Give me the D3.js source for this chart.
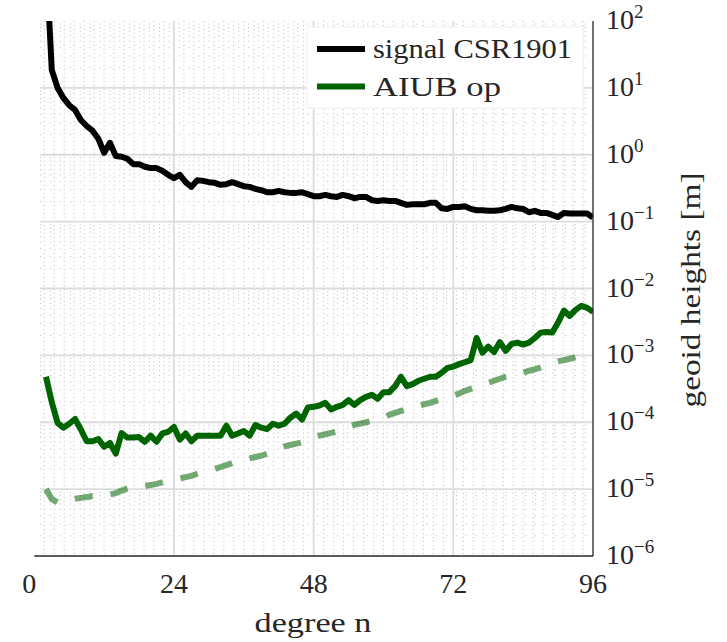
<!DOCTYPE html>
<html>
<head>
<meta charset="utf-8">
<script src="https://cdn.jsdelivr.net/npm/d3@7/dist/d3.min.js"></script>
<style>
  body { margin: 0; background: #fff; }
  text { font-family: "Liberation Serif", "Times New Roman", serif; fill: #262626; }
</style>
</head>
<body>
<div id="chart"></div>
<script>
// degrees 2..96
const degrees = d3.range(2, 97);

// signal CSR1901 (geoid heights per degree, m)
const signalCSR = [
  1000, 18.6, 10.0, 7.08, 5.50, 4.68, 3.31, 2.69, 2.29, 1.74,
  1.07, 1.51, 0.955, 0.933, 0.871, 0.724, 0.724, 0.661, 0.631, 0.631,
  0.575, 0.501, 0.447, 0.501, 0.389, 0.331, 0.417, 0.407, 0.389, 0.380,
  0.355, 0.363, 0.389, 0.363, 0.339, 0.331, 0.309, 0.295, 0.275, 0.275,
  0.288, 0.275, 0.269, 0.269, 0.275, 0.257, 0.240, 0.240, 0.251, 0.240,
  0.234, 0.251, 0.240, 0.224, 0.234, 0.234, 0.209, 0.204, 0.209, 0.204,
  0.204, 0.191, 0.178, 0.182, 0.182, 0.182, 0.191, 0.191, 0.158, 0.155,
  0.166, 0.166, 0.170, 0.155, 0.148, 0.148, 0.145, 0.145, 0.148, 0.155,
  0.166, 0.158, 0.155, 0.138, 0.145, 0.135, 0.135, 0.126, 0.117, 0.135,
  0.132, 0.132, 0.132, 0.132, 0.115
];

// AIUB op (difference)
const aiubOp = [
  4.79e-4, 2.0e-4, 9.8e-5, 8.3e-5, 9.5e-5, 1.12e-4, 7.8e-5, 5.2e-5, 5.2e-5, 5.6e-5,
  4.3e-5, 4.9e-5, 3.4e-5, 6.9e-5, 5.9e-5, 5.9e-5, 6.0e-5, 5.1e-5, 6.3e-5, 5.1e-5,
  6.8e-5, 7.2e-5, 8.5e-5, 5.5e-5, 6.8e-5, 5.2e-5, 6.3e-5, 6.3e-5, 6.3e-5, 6.3e-5,
  6.3e-5, 8.9e-5, 6.3e-5, 6.8e-5, 7.4e-5, 6.3e-5, 9.1e-5, 8.3e-5, 7.9e-5, 9.5e-5,
  8.9e-5, 9.5e-5, 1.17e-4, 1.35e-4, 1.10e-4, 1.66e-4, 1.70e-4, 1.78e-4, 1.95e-4, 1.55e-4,
  1.70e-4, 1.82e-4, 2.14e-4, 1.82e-4, 2.14e-4, 2.40e-4, 2.57e-4, 2.24e-4, 2.82e-4, 2.82e-4,
  3.47e-4, 4.79e-4, 3.47e-4, 3.72e-4, 4.17e-4, 4.47e-4, 4.79e-4, 4.79e-4, 5.5e-4, 6.5e-4,
  6.8e-4, 7.4e-4, 7.9e-4, 8.5e-4, 1.82e-3, 1.10e-3, 1.35e-3, 1.12e-3, 1.58e-3, 1.17e-3,
  1.48e-3, 1.55e-3, 1.45e-3, 1.55e-3, 1.82e-3, 2.19e-3, 2.24e-3, 2.19e-3, 3.09e-3, 4.68e-3,
  3.89e-3, 4.79e-3, 5.5e-3, 5.13e-3, 4.47e-3
];

// AIUB op formal error (dashed)
const aiubFormal = [
  1.00e-5, 7.1e-6, 6.3e-6, 6.6e-6, 6.9e-6, 7.2e-6, 7.4e-6, 7.6e-6, 7.9e-6, 7.9e-6,
  8.1e-6, 8.3e-6, 8.7e-6, 9.5e-6, 1.02e-5, 1.07e-5, 1.10e-5, 1.12e-5, 1.15e-5, 1.20e-5,
  1.26e-5, 1.32e-5, 1.38e-5, 1.45e-5, 1.51e-5, 1.58e-5, 1.70e-5, 1.82e-5, 1.91e-5, 2.00e-5,
  2.14e-5, 2.29e-5, 2.45e-5, 2.63e-5, 2.75e-5, 2.88e-5, 3.02e-5, 3.16e-5, 3.39e-5, 3.72e-5,
  4.07e-5, 4.37e-5, 4.57e-5, 4.79e-5, 5.01e-5, 5.37e-5, 5.89e-5, 6.31e-5, 6.61e-5, 6.92e-5,
  7.24e-5, 7.76e-5, 8.51e-5, 9.12e-5, 9.55e-5, 1.00e-4, 1.05e-4, 1.10e-4, 1.17e-4, 1.29e-4,
  1.38e-4, 1.48e-4, 1.58e-4, 1.66e-4, 1.74e-4, 1.86e-4, 1.95e-4, 2.09e-4, 2.24e-4, 2.34e-4,
  2.51e-4, 2.69e-4, 2.95e-4, 3.16e-4, 3.39e-4, 3.63e-4, 3.89e-4, 4.17e-4, 4.47e-4, 4.79e-4,
  5.01e-4, 5.25e-4, 5.50e-4, 5.89e-4, 6.17e-4, 6.61e-4, 7.08e-4, 7.59e-4, 8.13e-4, 8.51e-4,
  8.91e-4, 9.33e-4, 9.77e-4, 1.02e-3, 1.07e-3
];

const xTicks = [0, 24, 48, 72, 96];
const yExponents = [2, 1, 0, -1, -2, -3, -4, -5, -6];
const legendLabels = ["signal CSR1901", "AIUB op"];

const W = 727, H = 642;
const svg = d3.select("#chart").append("svg")
  .attr("width", W).attr("height", H);

const x = d3.scaleLinear().domain([0, 96]).range([34.3, 593]);
const y = d3.scaleLog().domain([1e-6, 1e2]).range([556, 21]);

const gridLeft = x(1), gridRight = x(96);

// minor grid (dotted)
const minorG = svg.append("g");
const minorX = d3.range(1, 57).map(k => k * 24 / 14).filter(v => v > 1 && v < 96 && Math.abs(v / 24 - Math.round(v / 24)) > 1e-6);
minorG.selectAll("line.mx").data(minorX).join("line")
  .attr("x1", d => x(d)).attr("x2", d => x(d))
  .attr("y1", y(1e2)).attr("y2", y(1e-6))
  .attr("stroke", "#a8a8a8").attr("stroke-width", 0.8)
  .attr("stroke-dasharray", "1,3");
const minorY = [];
for (let e = -6; e < 2; e++) for (let m = 2; m <= 9; m++) minorY.push(m * Math.pow(10, e));
minorG.selectAll("line.my").data(minorY).join("line")
  .attr("x1", gridLeft).attr("x2", gridRight)
  .attr("y1", d => y(d)).attr("y2", d => y(d))
  .attr("stroke", "#a8a8a8").attr("stroke-width", 0.8)
  .attr("stroke-dasharray", "1,8.9");

// major grid
const majorG = svg.append("g");
majorG.selectAll("line.gx").data([24, 48, 72]).join("line")
  .attr("x1", d => x(d)).attr("x2", d => x(d))
  .attr("y1", y(1e2)).attr("y2", y(1e-6))
  .attr("stroke", "#dcdcdc").attr("stroke-width", 1.8);
majorG.selectAll("line.gy").data(yExponents.filter(e => e < 2 && e > -6)).join("line")
  .attr("x1", gridLeft).attr("x2", gridRight)
  .attr("y1", d => y(Math.pow(10, d))).attr("y2", d => y(Math.pow(10, d)))
  .attr("stroke", "#dcdcdc").attr("stroke-width", 1.8);

// clip
svg.append("clipPath").attr("id", "plotclip").append("rect")
  .attr("x", x(0)).attr("y", y(1e2)).attr("width", x(96) - x(0)).attr("height", y(1e-6) - y(1e2));

const line = d3.line().x((d, i) => x(degrees[i])).y(d => y(d));
const plotG = svg.append("g").attr("clip-path", "url(#plotclip)");

plotG.append("path").datum(aiubFormal)
  .attr("d", line).attr("fill", "none")
  .attr("stroke", "rgba(0,100,0,0.55)").attr("stroke-width", 6)
  .attr("stroke-dasharray", "18,18");

plotG.append("path").datum(aiubOp)
  .attr("d", line).attr("fill", "none")
  .attr("stroke", "#006400").attr("stroke-width", 6)
  .attr("stroke-linejoin", "round");

plotG.append("path").datum(signalCSR)
  .attr("d", line).attr("fill", "none")
  .attr("stroke", "#000").attr("stroke-width", 6)
  .attr("stroke-linejoin", "round");

// axes lines
svg.append("line")
  .attr("x1", x(0)).attr("x2", x(96)).attr("y1", y(1e-6)).attr("y2", y(1e-6))
  .attr("stroke", "#262626").attr("stroke-width", 1.3);
svg.append("line")
  .attr("x1", x(96)).attr("x2", x(96)).attr("y1", y(1e2)).attr("y2", y(1e-6))
  .attr("stroke", "#262626").attr("stroke-width", 1.3);

// x tick labels
svg.selectAll("text.xt").data(xTicks).join("text")
  .attr("class", "xt")
  .attr("x", d => x(d) - (d === 0 ? 5 : 0)).attr("y", 593)
  .attr("text-anchor", "middle").attr("font-size", 28)
  .text(d => d);

// y tick labels
const yt = svg.selectAll("text.yt").data(yExponents).join("text")
  .attr("class", "yt")
  .attr("x", 606).attr("y", d => y(Math.pow(10, d)) + 8)
  .attr("font-size", 28);
yt.append("tspan").text("10");
yt.append("tspan").attr("dy", -11).attr("font-size", 19)
  .text(d => d < 0 ? "\u2212" + (-d) : d);

// axis labels
svg.append("text")
  .attr("x", 313).attr("y", 632).attr("text-anchor", "middle")
  .attr("font-size", 28).attr("textLength", 117).attr("lengthAdjust", "spacingAndGlyphs")
  .text("degree n");
svg.append("text")
  .attr("transform", "translate(700,290) rotate(-90)")
  .attr("text-anchor", "middle").attr("font-size", 28)
  .attr("textLength", 235).attr("lengthAdjust", "spacingAndGlyphs")
  .text("geoid heights [m]");

// legend
const leg = svg.append("g");
leg.append("rect")
  .attr("x", 307).attr("y", 27).attr("width", 276).attr("height", 81)
  .attr("fill", "#fff").attr("stroke", "#efefef").attr("stroke-width", 1);
const legColors = ["#000", "#006400"];
legendLabels.forEach((lab, i) => {
  const ly = 49 + i * 37.5;
  leg.append("line")
    .attr("x1", 317).attr("x2", 365).attr("y1", ly).attr("y2", ly)
    .attr("stroke", legColors[i]).attr("stroke-width", 6);
  leg.append("text")
    .attr("x", 373).attr("y", ly + 9).attr("font-size", 28)
    .attr("textLength", i === 0 ? 199 : 128).attr("lengthAdjust", "spacingAndGlyphs")
    .text(lab);
});
</script>
</body>
</html>
